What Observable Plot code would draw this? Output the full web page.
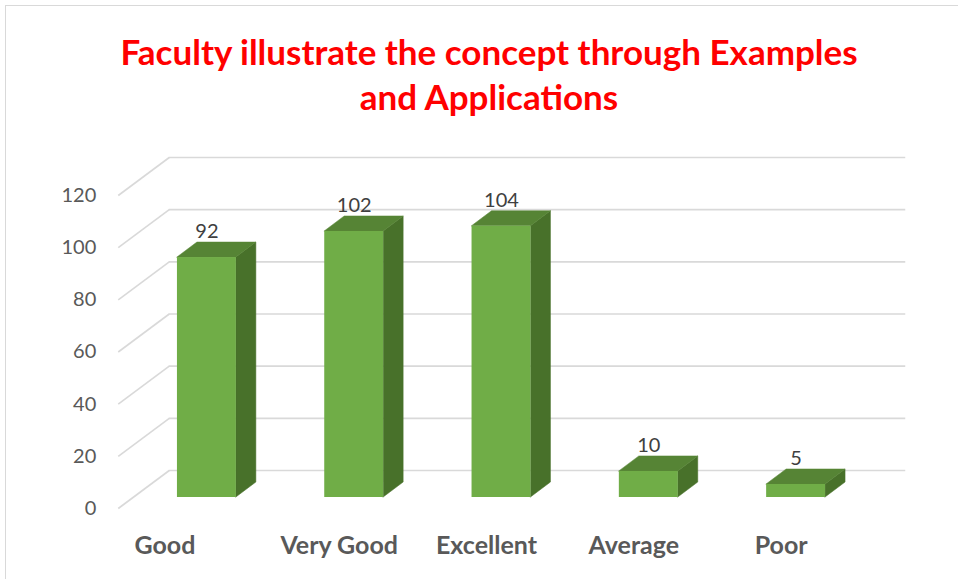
<!DOCTYPE html>
<html>
<head>
<meta charset="utf-8">
<script src="https://cdn.jsdelivr.net/npm/d3@7"></script>
<script src="https://cdn.jsdelivr.net/npm/@observablehq/plot@0.6"></script>
<style>
  html, body { margin: 0; padding: 0; background: #fff; overflow: hidden; }
  #wrap { position: relative; width: 958px; height: 579px; overflow: hidden; }
  #frame { position: absolute; left: 5px; top: 5px; width: 1200px; height: 1200px; border: 1px solid #d9d9d9; box-sizing: border-box; }
  #title { position: absolute; left: 19px; width: 940px; top: 29px; text-align: center;
    font-family: Lato, "Open Sans", sans-serif; font-weight: bold; font-size: 35px; line-height: 45px; color: #ff0000; }
  #chart { position: absolute; left: 0; top: 0; }
</style>
</head>
<body>
<div id="wrap">
  <div id="frame"></div>
  <div id="chart"></div>
  <div id="title">Faculty illustrate the concept through Examples<br>and Applications</div>
</div>
<script>
const categories = ["Good", "Very Good", "Excellent", "Average", "Poor"];
const values = [92, 102, 104, 10, 5];
const yTicks = [0, 20, 40, 60, 80, 100, 120];

// scale geometry (front plane of the bars)
const xDomain = [-0.5, 4.5], xRange = [132.75, 869.25];
const yDomain = [0, 120], yRange = [497, 184];
const pxX = (xRange[1] - xRange[0]) / (xDomain[1] - xDomain[0]);
const pxY = (yRange[0] - yRange[1]) / (yDomain[1] - yDomain[0]);
// depth offsets in pixels
const toBack = [36, -27], toFront = [-15, 11], barDepth = [20, -15];
const halfW = 0.2;
const ux = p => p / pxX, uy = p => -p / pxY;

const bars = categories.map((c, i) => ({c, i, v: values[i]}));
const sideRows = bars.flatMap(b => [
  {k: b.i, x: b.i + halfW, y1: 0, y2: b.v},
  {k: b.i, x: b.i + halfW + ux(barDepth[0]), y1: uy(barDepth[1]), y2: b.v + uy(barDepth[1])}
]);
const topRows = bars.flatMap(b => [
  {k: b.i, y: b.v, x1: b.i - halfW, x2: b.i + halfW},
  {k: b.i, y: b.v + uy(barDepth[1]), x1: b.i - halfW + ux(barDepth[0]), x2: b.i + halfW + ux(barDepth[0])}
]);
const diag = yTicks.map(t => ({
  x1: xDomain[0] + ux(toFront[0]), y1: t + uy(toFront[1]),
  x2: xDomain[0] + ux(toBack[0]), y2: t + uy(toBack[1])
}));

const font = "Lato, 'Open Sans', sans-serif";
const grid = "#d9d9d9";
const front = "#70ad47", side = "#48712a", topC = "#568435";

const chart = Plot.plot({
  width: 958,
  height: 579,
  margin: 0,
  style: {fontFamily: font, background: "transparent"},
  x: {type: "linear", domain: xDomain, range: xRange, axis: null},
  y: {type: "linear", domain: yDomain, range: yRange, axis: null},
  marks: [
    Plot.ruleY(yTicks, {y: d => d, x1: xDomain[0], x2: xDomain[1], dx: toBack[0], dy: toBack[1], stroke: grid, strokeWidth: 1.6}),
    Plot.link(diag, {x1: "x1", y1: "y1", x2: "x2", y2: "y2", stroke: grid, strokeWidth: 1.6}),
    Plot.text(yTicks, {x: xDomain[0], y: d => d, text: d => String(d), dx: toFront[0] - 22, dy: toFront[1], textAnchor: "end", fontSize: 20, fill: "#595959"}),
    Plot.areaY(sideRows, {x: "x", y1: "y1", y2: "y2", z: "k", fill: side, stroke: side, strokeWidth: 0.5, curve: "linear"}),
    Plot.areaX(topRows, {y: "y", x1: "x1", x2: "x2", z: "k", fill: topC, stroke: topC, strokeWidth: 0.5, curve: "linear"}),
    Plot.rect(bars, {x1: d => d.i - halfW, x2: d => d.i + halfW, y1: 0, y2: "v", fill: front}),
    Plot.text(bars, {x: "i", y: "v", text: d => String(d.v), dy: -26, fontSize: 20, fill: "#404040"}),
    Plot.text(bars.filter(d => d.i === 0), {x: "i", y: 0, text: "c", dx: -42, dy: 48, fontSize: 25, fontWeight: "bold", fill: "#595959"}),
    Plot.text(bars.filter(d => d.i !== 0), {x: "i", y: 0, text: "c", dx: -15, dy: 48, fontSize: 25, fontWeight: "bold", fill: "#595959"})
  ]
});
document.getElementById("chart").appendChild(chart);
</script>
</body>
</html>
